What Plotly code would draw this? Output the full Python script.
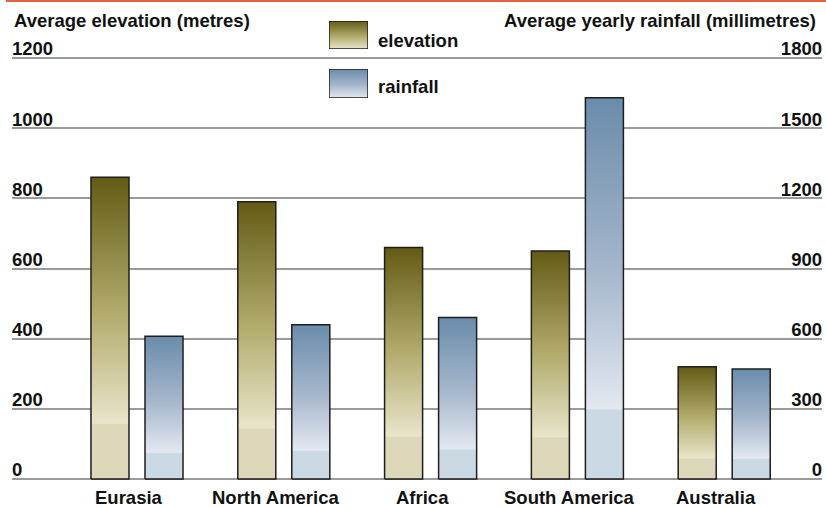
import plotly.graph_objects as go

# Continental averages
continents = ["Eurasia", "North America", "Africa", "South America", "Australia"]
elevation_m = [860, 790, 660, 650, 320]
rainfall_mm = [610, 660, 690, 1630, 470]

elev_ticks = [0, 200, 400, 600, 800, 1000, 1200]
rain_ticks = [0, 300, 600, 900, 1200, 1500, 1800]

FONT = "Liberation Sans, Arial, sans-serif"

# Vertical gradients: flat pale band at the foot, then pale -> dark to the top
ELEV_SCALE = [[0, "#dcd8b9"], [0.18, "#dcd8b9"], [0.185, "#e8e5cb"],
              [0.55, "#b2ab6c"], [1, "#635b15"]]
RAIN_SCALE = [[0, "#cbd9e4"], [0.18, "#cbd9e4"], [0.185, "#e3e8f0"],
              [0.55, "#a5b6cb"], [1, "#6a8cab"]]

W, H = 826, 508
ML, MR, MT, MB = 12, 4, 0, 10
PW, PH = W - ML - MR, H - MT - MB

ZERO_PX, TOP_PX = 479, 58              # pixel rows of the 0 and 1200 gridlines
PAD_TOP, PAD_BOT = 21, 12              # room so the end tick labels stay visible
SPAN_PX = ZERO_PX - TOP_PX

BAR_W = 0.259                          # bar width in category units
GAP = 0.109                            # gap between the pair of bars


def py(px):
    """paper y from a pixel row"""
    return (H - MB - px) / PH


def px_x(px):
    return (px - ML) / PW


def padded_range(top):
    u = top / SPAN_PX
    return [-PAD_BOT * u, top + PAD_TOP * u]


def bar_trace(xc, value, scale, yaxis):
    x0, x1 = xc, xc + BAR_W
    return go.Scatter(
        x=[x0, x1, x1, x0, x0], y=[0, 0, value, value, 0],
        mode="lines", fill="toself",
        fillgradient=dict(type="vertical", colorscale=scale, start=0, stop=value),
        line=dict(color="#1e1e1e", width=1.5),
        yaxis=yaxis, hoverinfo="skip", showlegend=False,
    )


fig = go.Figure()
for i, (e, r) in enumerate(zip(elevation_m, rainfall_mm)):
    fig.add_trace(bar_trace(i - GAP / 2 - BAR_W, e, ELEV_SCALE, "y"))
    fig.add_trace(bar_trace(i + GAP / 2, r, RAIN_SCALE, "y2"))

# legend swatches on their own small axes
for xa, ya, scale in (("x3", "y3", ELEV_SCALE[2:]), ("x4", "y4", RAIN_SCALE[2:])):
    sc = [[(s[0] - 0.185) / (1 - 0.185), s[1]] for s in scale]
    fig.add_trace(go.Scatter(
        x=[0, 1, 1, 0, 0], y=[0, 0, 1, 1, 0], mode="lines", fill="toself",
        fillgradient=dict(type="vertical", colorscale=sc),
        line=dict(color="#1e1e1e", width=1.5),
        xaxis=xa, yaxis=ya, hoverinfo="skip", showlegend=False,
    ))

x_lo = (ML - 137) / 146.8
x_hi = (W - MR - 137) / 146.8
txt_font = dict(family=FONT, size=18.5, color="#111111", weight="bold")

hidden = dict(visible=False, showgrid=False, zeroline=False, range=[0, 1], fixedrange=True)
sw_x = [px_x(329), px_x(368)]
y_domain = [py(ZERO_PX + PAD_BOT), py(TOP_PX - PAD_TOP)]

tick_common = dict(ticklabelposition="inside", ticklabelshift=-9, ticklabelstandoff=-3,
                   tickfont=txt_font, zeroline=False, showline=False, ticks="",
                   fixedrange=True, domain=y_domain)

fig.update_layout(
    width=W, height=H,
    margin=dict(l=ML, r=MR, t=MT, b=MB),
    paper_bgcolor="white", plot_bgcolor="rgba(0,0,0,0)",
    showlegend=False,
    xaxis=dict(range=[x_lo, x_hi], showgrid=False, zeroline=False,
               showticklabels=False, showline=False, fixedrange=True),
    yaxis=dict(range=padded_range(elev_ticks[-1]), tickvals=elev_ticks,
               showgrid=True, gridcolor="#9a9a9a", gridwidth=1.5, **tick_common),
    yaxis2=dict(range=padded_range(rain_ticks[-1]), tickvals=rain_ticks,
                overlaying="y", side="right", showgrid=False, **tick_common),
    xaxis3=dict(domain=sw_x, anchor="y3", **hidden),
    yaxis3=dict(domain=[py(49), py(21)], anchor="x3", **hidden),
    xaxis4=dict(domain=sw_x, anchor="y4", **hidden),
    yaxis4=dict(domain=[py(98), py(69)], anchor="x4", **hidden),
)

ann = []
ann.append(dict(text="Average elevation (metres)", x=0, y=py(21),
                xref="paper", yref="paper", xanchor="left", yanchor="middle",
                showarrow=False, font=txt_font))
ann.append(dict(text="Average yearly rainfall (millimetres)", x=px_x(818), y=py(21),
                xref="paper", yref="paper", xanchor="right", yanchor="middle",
                showarrow=False, font=txt_font))
ann.append(dict(text="elevation", x=px_x(376), y=py(40),
                xref="paper", yref="paper", xanchor="left", yanchor="middle",
                showarrow=False, font=txt_font))
ann.append(dict(text="rainfall", x=px_x(376), y=py(86),
                xref="paper", yref="paper", xanchor="left", yanchor="middle",
                showarrow=False, font=txt_font))
for i, name in enumerate(continents):
    ann.append(dict(text=name, x=i, y=py(497.5), xref="x", yref="paper",
                    xanchor="center", yanchor="middle", xshift=-8,
                    showarrow=False, font=txt_font))
fig.update_layout(annotations=ann)

# orange rule along the top edge
fig.add_shape(type="line", xref="paper", yref="paper",
              x0=px_x(6), x1=px_x(W), y0=py(1), y1=py(1),
              line=dict(color="#e0603f", width=2))

fig.write_html("out.html")
